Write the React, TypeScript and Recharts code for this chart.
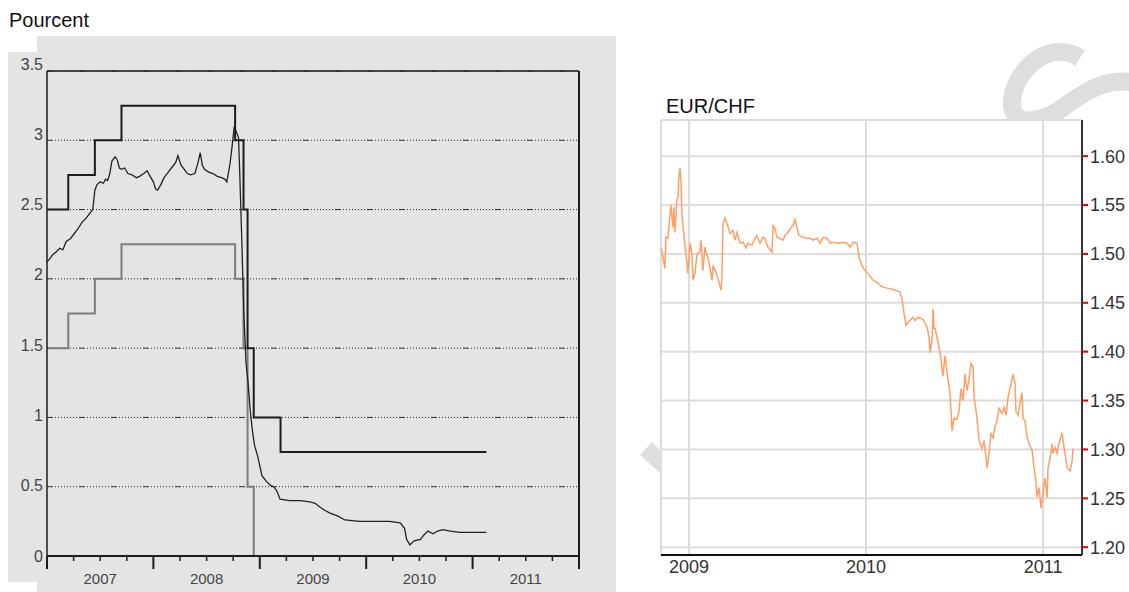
import React from "react";
import {
  CartesianGrid,
  Line,
  LineChart,
  ReferenceLine,
  XAxis,
  YAxis,
} from "recharts";

// --- Taux suisses (gauche) ---
const bandDates = [2007.0, 2007.2, 2007.45, 2007.7, 2008.768, 2008.847, 2008.885, 2008.943, 2009.195, 2011.13];
const bandUpper = [2.5, 2.75, 3.0, 3.25, 3.0, 2.5, 1.5, 1.0, 0.75, 0.75];
const bandLower = [1.5, 1.75, 2.0, 2.25, 2.0, 1.5, 0.5, 0, 0, 0];

const liborDates = [
  2007.0, 2007.03, 2007.06, 2007.08, 2007.12, 2007.15, 2007.18, 2007.22, 2007.25, 2007.29,
  2007.33, 2007.37, 2007.4, 2007.43, 2007.45, 2007.47, 2007.5, 2007.53, 2007.55, 2007.57,
  2007.59, 2007.61, 2007.64, 2007.66, 2007.68, 2007.7, 2007.73, 2007.76, 2007.8, 2007.84,
  2007.87, 2007.91, 2007.94, 2007.97, 2008.0, 2008.02, 2008.04, 2008.07, 2008.1, 2008.14,
  2008.17, 2008.21, 2008.23, 2008.26, 2008.29, 2008.32, 2008.35, 2008.39, 2008.42, 2008.44,
  2008.46, 2008.48, 2008.52, 2008.56, 2008.6, 2008.64, 2008.67, 2008.69, 2008.72, 2008.74,
  2008.76, 2008.78, 2008.8, 2008.81, 2008.83, 2008.85, 2008.87, 2008.89, 2008.91, 2008.93,
  2008.95, 2008.98, 2009.02, 2009.06, 2009.1, 2009.13, 2009.16, 2009.19, 2009.28, 2009.38,
  2009.47, 2009.52, 2009.57, 2009.61, 2009.66, 2009.73, 2009.8, 2009.94, 2010.08, 2010.22,
  2010.32, 2010.36, 2010.38, 2010.41, 2010.45, 2010.51, 2010.54, 2010.58, 2010.63, 2010.67,
  2010.72, 2010.79, 2010.88, 2010.98, 2011.07, 2011.13,
];
const liborValues = [
  2.12, 2.15, 2.18, 2.19, 2.22, 2.21, 2.27, 2.29, 2.32, 2.36,
  2.41, 2.44, 2.47, 2.5, 2.64, 2.68, 2.7, 2.69, 2.72, 2.71,
  2.76, 2.85, 2.88, 2.86, 2.8, 2.79, 2.8, 2.76, 2.75, 2.73,
  2.74, 2.76, 2.78, 2.74, 2.7, 2.65, 2.64, 2.68, 2.73, 2.77,
  2.8, 2.84, 2.89, 2.82, 2.79, 2.76, 2.75, 2.76, 2.84, 2.91,
  2.82, 2.79, 2.77, 2.76, 2.74, 2.73, 2.72, 2.7, 2.83, 2.96,
  3.1, 3.06, 3.02, 2.8, 2.3, 1.75, 1.4, 1.25, 1.05, 0.91,
  0.8, 0.72, 0.58, 0.54, 0.51, 0.5, 0.47, 0.41, 0.4, 0.4,
  0.39, 0.38, 0.35, 0.33, 0.31, 0.29, 0.26, 0.25, 0.25, 0.25,
  0.24, 0.2, 0.12, 0.08, 0.11, 0.12, 0.15, 0.18, 0.16, 0.18,
  0.19, 0.18, 0.17, 0.17, 0.17, 0.17,
];

const rateTicks = [0, 0.5, 1, 1.5, 2, 2.5, 3, 3.5];
const leftYears = [2007, 2008, 2009, 2010, 2011];

// --- EUR/CHF (droite) ---
const eurDates = [
  2008.842, 2008.853, 2008.864, 2008.87, 2008.881, 2008.898, 2008.91, 2008.915, 2008.921, 2008.932,
  2008.938, 2008.944, 2008.949, 2008.955, 2008.96, 2008.972, 2008.983, 2008.989, 2008.994, 2009.006,
  2009.017, 2009.023, 2009.034, 2009.045, 2009.062, 2009.068, 2009.079, 2009.09, 2009.102, 2009.107,
  2009.119, 2009.13, 2009.136, 2009.153, 2009.164, 2009.181, 2009.186, 2009.192, 2009.203, 2009.215,
  2009.232, 2009.249, 2009.26, 2009.271, 2009.288, 2009.305, 2009.322, 2009.333, 2009.356, 2009.373,
  2009.384, 2009.401, 2009.418, 2009.429, 2009.446, 2009.469, 2009.475, 2009.486, 2009.497, 2009.514,
  2009.531, 2009.542, 2009.559, 2009.576, 2009.588, 2009.599, 2009.61, 2009.621, 2009.644, 2009.667,
  2009.684, 2009.701, 2009.723, 2009.74, 2009.757, 2009.78, 2009.797, 2009.814, 2009.842, 2009.87,
  2009.893, 2009.91, 2009.927, 2009.949, 2009.96, 2009.977, 2009.994, 2010.011, 2010.028, 2010.04,
  2010.062, 2010.079, 2010.096, 2010.119, 2010.164, 2010.192, 2010.203, 2010.215, 2010.226, 2010.238,
  2010.249, 2010.266, 2010.277, 2010.294, 2010.322, 2010.345, 2010.356, 2010.362, 2010.373, 2010.379,
  2010.384, 2010.39, 2010.401, 2010.418, 2010.435, 2010.446, 2010.463, 2010.475, 2010.486, 2010.497,
  2010.514, 2010.525, 2010.537, 2010.548, 2010.559, 2010.571, 2010.582, 2010.593, 2010.605, 2010.61,
  2010.627, 2010.638, 2010.655, 2010.667, 2010.678, 2010.684, 2010.695, 2010.706, 2010.718, 2010.729,
  2010.74, 2010.751, 2010.768, 2010.78, 2010.791, 2010.802, 2010.819, 2010.831, 2010.842, 2010.847,
  2010.859, 2010.87, 2010.881, 2010.887, 2010.898, 2010.91, 2010.921, 2010.938, 2010.949, 2010.96,
  2010.966, 2010.977, 2010.989, 2011.0, 2011.011, 2011.023, 2011.028, 2011.04, 2011.051, 2011.056,
  2011.068, 2011.079, 2011.09, 2011.107, 2011.113, 2011.124, 2011.136, 2011.153, 2011.164, 2011.169,
];
const eurRates = [
  1.506, 1.497, 1.485, 1.517, 1.516, 1.55, 1.527, 1.548, 1.522, 1.555,
  1.558, 1.58, 1.588, 1.575, 1.54, 1.519, 1.5, 1.49, 1.48, 1.511,
  1.5, 1.473, 1.48, 1.5, 1.502, 1.514, 1.483, 1.507, 1.498, 1.497,
  1.485, 1.473, 1.488, 1.481, 1.475, 1.463, 1.473, 1.531, 1.537, 1.531,
  1.521, 1.524, 1.514, 1.522, 1.511, 1.512, 1.506, 1.511, 1.509, 1.516,
  1.519, 1.511, 1.517, 1.516, 1.507, 1.502, 1.529, 1.526, 1.517, 1.516,
  1.514, 1.519, 1.522, 1.527, 1.529, 1.535, 1.527, 1.519, 1.517, 1.516,
  1.516, 1.514, 1.516, 1.511, 1.517, 1.516, 1.511, 1.512, 1.511, 1.512,
  1.511, 1.507, 1.512, 1.511, 1.497, 1.488, 1.483, 1.48, 1.476, 1.473,
  1.471, 1.468, 1.466, 1.465, 1.463, 1.461, 1.454, 1.439, 1.427, 1.43,
  1.432, 1.435, 1.432, 1.435, 1.433, 1.425, 1.415, 1.399, 1.412, 1.444,
  1.424, 1.424, 1.415, 1.399, 1.375, 1.396, 1.372, 1.357, 1.319, 1.332,
  1.331, 1.339, 1.362, 1.35, 1.377, 1.36, 1.372, 1.388, 1.384, 1.355,
  1.332, 1.309, 1.301, 1.309, 1.291, 1.281, 1.296, 1.316, 1.312, 1.324,
  1.329, 1.342, 1.337, 1.343, 1.335, 1.353, 1.367, 1.377, 1.367, 1.339,
  1.335, 1.347, 1.358, 1.332, 1.329, 1.312, 1.306, 1.299, 1.281, 1.268,
  1.251, 1.261, 1.24, 1.255, 1.271, 1.251, 1.281, 1.291, 1.306, 1.296,
  1.302, 1.296, 1.306, 1.317, 1.309, 1.296, 1.281, 1.278, 1.288, 1.301,
];
const fxTicks = [1.2, 1.25, 1.3, 1.35, 1.4, 1.45, 1.5, 1.55, 1.6];
const rightYears = [2009, 2010, 2011];

const FONT = '"Liberation Sans", Arial, sans-serif';
const PANEL = "#e4e4e4";
const INK = "#1c1c1c";
const WATERMARK = "#dedede";

const upperData = bandDates.map((t, i) => ({ t, v: bandUpper[i] }));
const firstZero = bandLower.indexOf(0);
const lowerData = bandDates.slice(0, firstZero + 1).map((t, i) => ({ t, v: bandLower[i] }));
const liborData = liborDates.map((t, i) => ({ t, v: liborValues[i] }));
const eurData = eurDates.map((t, i) => ({ t, v: eurRates[i] }));

const quarterTicks: number[] = [];
leftYears.forEach((y) => [0, 0.25, 0.5, 0.75].forEach((q) => quarterTicks.push(y + q)));
quarterTicks.push(leftYears[leftYears.length - 1] + 1);

function YearTick(props: any) {
  const { x, y, payload } = props;
  const v = payload.value as number;
  const q = Math.round((v - Math.floor(v)) * 4);
  const major = q === 0;
  return (
    <g>
      <line x1={x} x2={x} y1={y} y2={y + (major ? 13 : 5)} stroke={INK} strokeWidth={major ? 2 : 1.5} />
      {q === 2 && (
        <text x={x} y={y + 22} textAnchor="middle" dominantBaseline="central" fontSize={15} fill="#444" fontFamily={FONT}>
          {Math.floor(v)}
        </text>
      )}
    </g>
  );
}

// the source labels drift slightly upward toward the top of the scale
function RateTick(props: any) {
  const { x, y, payload } = props;
  const v = payload.value as number;
  return (
    <text x={x} y={y - v * 2} textAnchor="end" dominantBaseline="central" fontSize={16} fill="#444" fontFamily={FONT}>
      {String(v)}
    </text>
  );
}

function RatesChart() {
  return (
    <LineChart width={620} height={592} margin={{ top: 71, right: 41, bottom: 6, left: 7 }}>
      <CartesianGrid
        vertical={false}
        stroke="#2a2a2a"
        strokeDasharray="6 2 1 2 1 2 1 2 1 2 1 2 1 2 1 2 1 2"
      />
      <XAxis
        type="number"
        dataKey="t"
        domain={[2007, 2012]}
        ticks={quarterTicks}
        interval={0}
        tickSize={0}
        tickMargin={0}
        tickLine={false}
        tick={<YearTick />}
        axisLine={{ stroke: INK, strokeWidth: 2 }}
        height={30}
      />
      <YAxis
        type="number"
        domain={[0, 3.5]}
        ticks={rateTicks}
        interval={0}
        width={40}
        tickSize={0}
        tickMargin={4}
        tickLine={false}
        axisLine={{ stroke: INK, strokeWidth: 1.5 }}
        tick={<RateTick />}
      />
      <ReferenceLine y={3.5} stroke={INK} strokeWidth={1.5} />
      <ReferenceLine x={2012} stroke={INK} strokeWidth={2} />
      <Line data={lowerData} dataKey="v" type="stepAfter" stroke="#7d7d7d" strokeWidth={2} dot={false} isAnimationActive={false} />
      <Line data={upperData} dataKey="v" type="stepAfter" stroke={INK} strokeWidth={2} dot={false} isAnimationActive={false} />
      <Line data={liborData} dataKey="v" type="linear" stroke="#222" strokeWidth={1.3} dot={false} isAnimationActive={false} />
    </LineChart>
  );
}

function FxChart() {
  return (
    <LineChart width={474} height={492} margin={{ top: 20, right: 0, bottom: 7, left: 6 }}>
      <CartesianGrid stroke="#dcdcdc" strokeWidth={2} />
      <XAxis
        type="number"
        dataKey="t"
        domain={[2008.842, 2011.22]}
        ticks={rightYears}
        interval={0}
        tickLine={false}
        tickSize={0}
        tickMargin={5}
        axisLine={{ stroke: "#111", strokeWidth: 2 }}
        tick={{ fill: "#333", fontSize: 18, fontFamily: FONT }}
        height={30}
      />
      <YAxis
        orientation="right"
        type="number"
        domain={[1.192, 1.637]}
        ticks={fxTicks}
        interval={0}
        width={47}
        tickSize={6}
        tickMargin={2}
        tickLine={{ stroke: "#e00000", strokeWidth: 2 }}
        axisLine={{ stroke: "#333", strokeWidth: 2 }}
        tickFormatter={(v: number) => v.toFixed(2)}
        tick={{ fill: "#333", fontSize: 18, fontFamily: FONT }}
      />
      <Line data={eurData} dataKey="v" type="linear" stroke="#ff9f63" strokeWidth={1.5} dot={false} isAnimationActive={false} />
    </LineChart>
  );
}

export default function App() {
  return (
    <div style={{ position: "absolute", left: 0, top: 0, width: 1129, height: 592, background: "#fff", fontFamily: FONT, overflow: "hidden" }}>
      {/* filigrane */}
      <svg width={1129} height={592} style={{ position: "absolute", left: 0, top: 0 }}>
        <path
          d="M 1080 58 C 1048 38, 1012 72, 1012 104 C 1012 128, 1042 124, 1068 104 C 1090 88, 1112 76, 1140 84"
          fill="none"
          stroke={WATERMARK}
          strokeWidth={18}
        />
        <polygon points="640,455 652,442 661,451 661,474" fill={WATERMARK} />
      </svg>
      <div style={{ position: "absolute", left: 661, top: 120, width: 468, height: 472, background: "#fff" }} />

      <div style={{ position: "absolute", left: 37, top: 36, width: 579, height: 556, background: PANEL }} />
      <div style={{ position: "absolute", left: 8, top: 52, width: 29, height: 530, background: PANEL }} />
      <div style={{ position: "absolute", left: 9, top: 9, fontSize: 20, color: "#111", whiteSpace: "nowrap" }}>Pourcent</div>
      <div style={{ position: "absolute", left: 0, top: 0 }}>
        <RatesChart />
      </div>

      <div style={{ position: "absolute", left: 666, top: 95, fontSize: 20, color: "#111", whiteSpace: "nowrap" }}>EUR/CHF</div>
      <div style={{ position: "absolute", left: 655, top: 100 }}>
        <FxChart />
      </div>
    </div>
  );
}
